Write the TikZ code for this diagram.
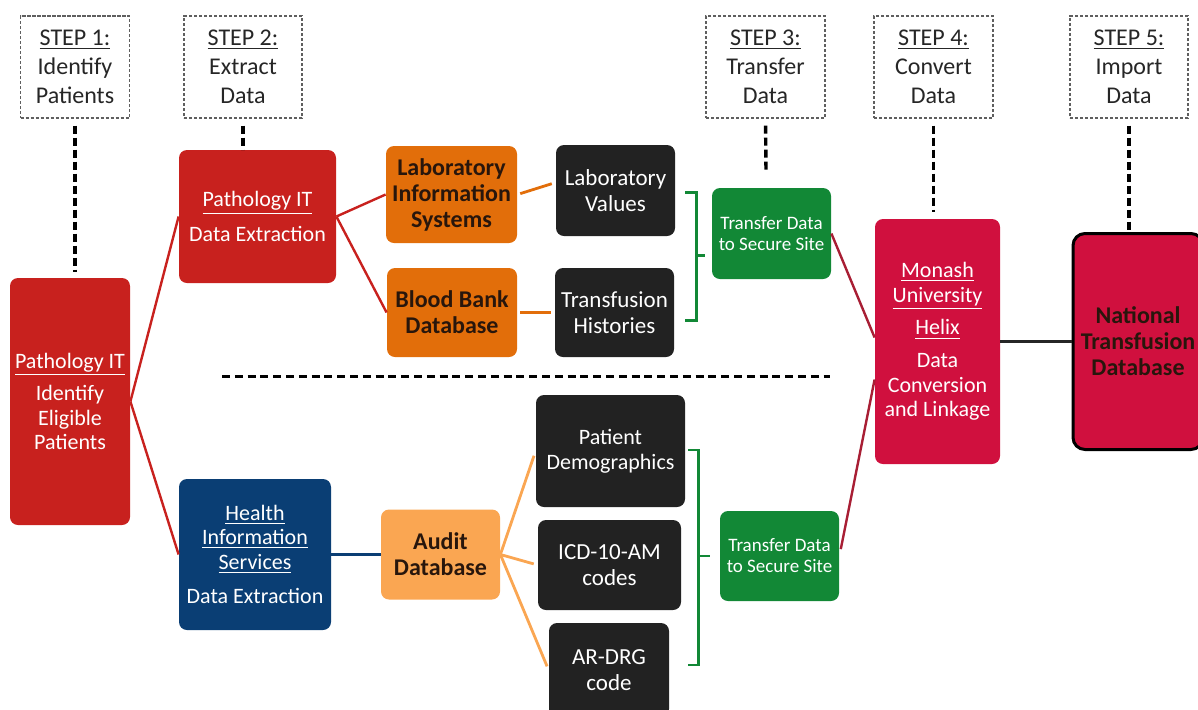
\documentclass[tikz,border=0pt]{standalone}
\usepackage{fontspec}
\setmainfont{Carlito}
\usetikzlibrary{calc}

\definecolor{pathred}{RGB}{200,33,30}
\definecolor{labor}{RGB}{226,110,10}
\definecolor{auditor}{RGB}{250,166,82}
\definecolor{datablk}{RGB}{34,34,34}
\definecolor{securegr}{RGB}{18,136,54}
\definecolor{monred}{RGB}{208,16,62}
\definecolor{hisblue}{RGB}{10,62,116}
\definecolor{linkred}{RGB}{168,30,52}
\definecolor{stepgray}{RGB}{95,95,95}
\definecolor{steptext}{RGB}{38,38,38}
\definecolor{darktext}{RGB}{40,22,12}

\tikzset{
    card/.style={rounded corners=4pt, align=center, inner sep=0pt, text=white,
        font=\fontsize{11}{12.3}\selectfont},
    boldcard/.style={card, text=darktext, font=\bfseries\fontsize{12}{13}\selectfont},
    datacard/.style={card, fill=datablk, font=\fontsize{11.5}{13}\selectfont},
    securecard/.style={card, fill=securegr, font=\fontsize{9.5}{10.5}\selectfont},
    stepbox/.style={draw=stepgray, line width=0.6pt, dash pattern=on 1.6pt off 0.9pt,
        align=center, inner sep=0pt, minimum height=51pt, text=steptext,
        font=\fontsize{12}{14.5}\selectfont},
    steplink/.style={line width=1.7pt, dash pattern=on 4pt off 2pt},
    wire/.style={line width=1.2pt},
    brace/.style={securegr, line width=1.4pt},
}

\begin{document}
\begin{tikzpicture}[x=0.5pt, y=-0.5pt]
        \useasboundingbox (0,0) rectangle (1198,709);

        \node[stepbox, minimum width=54.5pt] (step1) at (75,67) {\underline{STEP 1:}\\Identify\\Patients};
        \node[stepbox, minimum width=59pt] (step2) at (243,67) {\underline{STEP 2:}\\Extract\\Data};
        \node[stepbox, minimum width=59.5pt] (step3) at (765.5,67) {\underline{STEP 3:}\\Transfer\\Data};
        \node[stepbox, minimum width=59.5pt] (step4) at (933.5,67) {\underline{STEP 4:}\\Convert\\Data};
        \node[stepbox, minimum width=59pt] (step5) at (1129,67) {\underline{STEP 5:}\\Import\\Data};

        \node[card, fill=pathred, minimum width=60pt, minimum height=123.5pt] (pathid) at (70,401.5)
            {\underline{Pathology IT}\\[4pt]Identify\\Eligible\\Patients};
        \node[card, fill=pathred, minimum width=78.5pt, minimum height=66.5pt] (pathex) at (257.5,216.5)
            {\underline{Pathology IT}\\[5pt]Data Extraction};
        \node[card, fill=hisblue, minimum width=76pt, minimum height=75.5pt] (his) at (255,554.5)
            {\underline{Health}\\\underline{Information}\\\underline{Services}\\[5pt]Data Extraction};

        \node[boldcard, fill=labor, minimum width=65.5pt, minimum height=48.5pt] (lis) at (451.5,194.5)
            {Laboratory\\Information\\Systems};
        \node[boldcard, fill=labor, minimum width=65pt, minimum height=44.5pt] (bbd) at (452,312.5)
            {Blood Bank\\Database};
        \node[boldcard, fill=auditor, minimum width=59.5pt, minimum height=45pt] (audit) at (440.5,554.5)
            {Audit\\Database};

        \node[datacard, minimum width=59.5pt, minimum height=45.5pt] (labval) at (615.5,190.5)
            {Laboratory\\Values};
        \node[datacard, minimum width=59.5pt, minimum height=44.5pt] (transhist) at (614.5,312.5)
            {Transfusion\\Histories};
        \node[datacard, font=\fontsize{11}{12.5}\selectfont, minimum width=74.5pt, minimum height=56pt] (patdem) at (610.5,451)
            {Patient\\Demographics};
        \node[datacard, minimum width=71.5pt, minimum height=45pt] (icd) at (609.5,565)
            {ICD-10-AM\\codes};
        \node[datacard, minimum width=60pt, minimum height=47pt] (ardrg) at (609,670)
            {AR-DRG\\code};

        \node[securecard, minimum width=59.5pt, minimum height=45.5pt] (green1) at (771.5,233.5)
            {Transfer Data\\to Secure Site};
        \node[securecard, minimum width=59.5pt, minimum height=45pt] (green2) at (779.5,556)
            {Transfer Data\\to Secure Site};

        \node[card, fill=monred, minimum width=62.5pt, minimum height=122.5pt] (monash) at (937.5,341.5)
            {\underline{Monash}\\\underline{University}\\[4pt]\underline{Helix}\\[4pt]Data\\Conversion\\and Linkage};
        \node[card, fill=monred, draw=black, line width=1.5pt, rounded corners=6pt, text=darktext,
            font=\bfseries\fontsize{12}{13}\selectfont, minimum width=65pt, minimum height=108pt] (national) at (1138,341.5)
            {National\\Transfusion\\Database};

        \coordinate (s3end) at (766,172);
        \draw[steplink, shorten <=3.5pt, shorten >=3pt] (step1.south) -- (step1.south |- pathid.north);
        \draw[steplink, shorten <=3.5pt] (step2.south) -- (step2.south |- pathex.north);
        \draw[steplink, shorten <=3.5pt] (step3.south) -- (s3end);
        \draw[steplink, shorten <=3.5pt, shorten >=3.5pt] (step4.south) -- (step4.south |- monash.north);
        \draw[steplink, shorten <=3.5pt] (step5.south) -- (step5.south |- national.north);

        \draw[line width=1.5pt, dash pattern=on 4pt off 2.4pt] (222,376) -- (830,376);

        \draw[wire, pathred] (pathid.east) -- (pathex.west);
        \draw[wire, pathred] (pathid.east) -- (his.west);
        \draw[wire, pathred] (pathex.east) -- (lis.west);
        \draw[wire, pathred] (pathex.east) -- (bbd.west);
        \draw[wire, labor, line width=1.4pt, shorten <=1.5pt, shorten >=2pt] (lis.east) -- ([yshift=4pt]labval.west);
        \draw[wire, labor, line width=1.4pt, shorten <=1.5pt, shorten >=2pt] (bbd.east) -- (transhist.west);
        \draw[wire, hisblue, line width=1.4pt] (his.east) -- (audit.west);
        \draw[wire, auditor, line width=1.4pt, shorten >=2.5pt] (audit.east) -- (patdem.west);
        \draw[wire, auditor, line width=1.4pt, shorten >=2pt] (audit.east) -- (icd.west);
        \draw[wire, auditor, line width=1.4pt, shorten >=2pt] (audit.east) -- (ardrg.west);

        \draw[brace] ([xshift=5pt,yshift=-1pt]labval.east) -- ++(11,0) |- ([xshift=5.5pt,yshift=-4pt]transhist.east);
        \draw[brace] ($(labval.east)!0.5!(transhist.east)+(21,4)$) -- ++(9,0);
        \draw[brace] ([xshift=1.5pt,yshift=0.5pt]patdem.east) -- ++(10,0) |- ([xshift=9.5pt,yshift=2.5pt]ardrg.east);
        \draw[brace] ($(patdem.east)!0.5!(ardrg.east)+(21,-4.5)$) -- ++(12,0);

        \draw[wire, linkred] (green1.east) -- ([yshift=2pt]monash.west);
        \draw[wire, linkred, shorten <=3.5pt] (green2.east) -- ([yshift=-19pt]monash.west);
        \draw[line width=1.3pt, black!85] (monash.east) -- (national.west);
\end{tikzpicture}
\end{document}
